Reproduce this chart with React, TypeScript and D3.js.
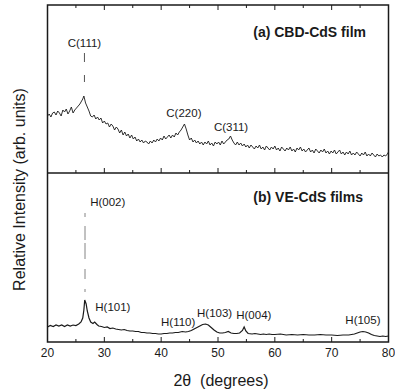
import * as d3 from "d3"

// 2θ (deg) and intensity (arb.)
const cbdScan: [number, number][] = [
  [20.0, 57], [20.3, 59], [20.6, 56], [20.9, 60], [21.2, 61], [21.5, 58], [21.8, 62], [22.1, 60],
  [22.4, 57], [22.7, 63], [23.0, 61], [23.3, 64], [23.6, 59], [23.9, 62], [24.2, 66], [24.5, 60],
  [24.8, 63], [25.1, 65], [25.4, 67], [25.7, 69], [26.0, 72], [26.2, 74], [26.4, 77], [26.7, 70],
  [27.0, 66], [27.3, 62], [27.6, 57], [27.9, 56], [28.2, 58], [28.5, 54], [28.8, 56], [29.1, 53],
  [29.4, 55], [29.7, 50], [30.0, 52], [30.3, 49], [30.6, 50], [30.9, 46], [31.2, 49], [31.5, 47],
  [31.8, 43], [32.1, 46], [32.4, 44], [32.7, 40], [33.0, 43], [33.3, 38], [33.6, 41], [33.9, 37],
  [34.2, 39], [34.5, 35], [34.8, 38], [35.1, 34], [35.4, 36], [35.7, 32], [36.0, 34], [36.3, 31],
  [36.6, 33], [36.9, 30], [37.2, 32], [37.5, 31], [37.8, 29], [38.1, 32], [38.4, 30], [38.7, 33],
  [39.0, 31], [39.3, 34], [39.6, 32], [39.9, 35], [40.2, 33], [40.5, 37], [40.8, 34], [41.1, 36],
  [41.4, 38], [41.7, 35], [42.0, 38], [42.3, 36], [42.6, 40], [42.9, 38], [43.2, 41], [43.5, 43],
  [43.8, 46], [44.1, 49], [44.4, 44], [44.7, 38], [45.0, 33], [45.3, 35], [45.6, 31], [45.9, 33],
  [46.2, 30], [46.5, 32], [46.8, 29], [47.1, 31], [47.4, 28], [47.7, 31], [48.0, 29], [48.3, 32],
  [48.6, 28], [48.9, 30], [49.2, 27], [49.5, 31], [49.8, 29], [50.1, 31], [50.4, 28], [50.7, 32],
  [51.0, 29], [51.3, 31], [51.6, 33], [51.9, 34], [52.2, 37], [52.5, 33], [52.8, 30], [53.1, 28],
  [53.4, 31], [53.7, 28], [54.0, 30], [54.3, 27], [54.6, 29], [54.9, 26], [55.2, 28], [55.5, 25],
  [55.8, 28], [56.1, 26], [56.4, 24], [56.7, 27], [57.0, 25], [57.3, 28], [57.6, 24], [57.9, 26],
  [58.2, 23], [58.5, 27], [58.8, 25], [59.1, 23], [59.4, 26], [59.7, 24], [60.0, 27], [60.3, 23],
  [60.6, 25], [60.9, 22], [61.2, 26], [61.5, 24], [61.8, 22], [62.1, 25], [62.4, 23], [62.7, 26],
  [63.0, 22], [63.3, 24], [63.6, 21], [63.9, 25], [64.2, 23], [64.5, 26], [64.8, 22], [65.1, 24],
  [65.4, 21], [65.7, 23], [66.0, 25], [66.3, 21], [66.6, 23], [66.9, 20], [67.2, 24], [67.5, 22],
  [67.8, 20], [68.1, 23], [68.4, 21], [68.7, 24], [69.0, 20], [69.3, 22], [69.6, 19], [69.9, 22],
  [70.2, 20], [70.5, 23], [70.8, 19], [71.1, 21], [71.4, 23], [71.7, 19], [72.0, 21], [72.3, 18],
  [72.6, 21], [72.9, 19], [73.2, 22], [73.5, 18], [73.8, 20], [74.1, 18], [74.4, 21], [74.7, 19],
  [75.0, 17], [75.3, 20], [75.6, 18], [75.9, 21], [76.2, 17], [76.5, 19], [76.8, 17], [77.1, 20],
  [77.4, 18], [77.7, 16], [78.0, 19], [78.3, 17], [78.6, 18], [78.9, 16], [79.2, 18], [79.5, 17],
  [79.8, 19], [80.0, 21],
]

const veScan: [number, number][] = [
  [20.0, 15], [20.5, 16.5], [21.0, 15.5], [21.5, 17], [22.0, 16], [22.5, 17], [23.0, 15.5], [23.5, 17],
  [24.0, 16], [24.5, 17], [25.0, 16.5], [25.5, 18], [25.9, 20], [26.2, 24], [26.4, 32], [26.55, 42],
  [26.8, 38], [27.0, 31], [27.3, 24], [27.6, 20], [28.0, 18.5], [28.3, 20], [28.7, 17.5], [29.0, 16],
  [29.5, 15.5], [30.0, 14.5], [30.5, 15], [31.0, 13.5], [31.5, 14], [32.0, 13], [32.5, 12.5], [33.0, 12],
  [33.5, 12.5], [34.0, 11.5], [34.5, 11], [35.0, 11], [35.5, 10.5], [36.0, 10.5], [36.5, 9.5], [37.0, 9.5],
  [37.5, 9], [38.0, 9], [38.5, 8.5], [39.0, 8.5], [39.5, 8], [40.0, 8], [40.5, 8.5], [41.0, 8.5],
  [41.5, 9], [42.0, 9], [42.5, 9.5], [43.0, 9.5], [43.7, 10.5], [44.3, 10], [44.8, 10.5], [45.3, 11.5],
  [45.8, 13], [46.3, 14.5], [46.8, 16], [47.3, 17.5], [47.8, 18], [48.3, 17], [48.8, 14.5], [49.3, 12],
  [49.8, 10], [50.3, 9], [50.8, 9], [51.3, 9.5], [51.8, 10.5], [52.3, 9], [52.8, 8.5], [53.3, 8.5],
  [53.8, 9], [54.3, 11.5], [54.6, 15], [54.9, 11], [55.3, 8.5], [56.0, 8], [56.5, 8.5], [57.0, 8],
  [57.5, 7.5], [58.0, 8], [58.5, 7.5], [59.0, 8], [59.5, 7.5], [60.0, 7.5], [61.0, 8], [62.0, 7],
  [63.0, 7.5], [64.0, 7], [65.0, 7.5], [66.0, 7], [67.0, 7], [68.0, 7.5], [69.0, 7], [70.0, 7],
  [71.0, 6.5], [72.0, 7], [73.0, 7], [73.5, 7.5], [74.0, 8], [74.5, 9], [75.0, 10], [75.5, 10.5],
  [76.0, 10], [76.5, 9], [77.0, 7.5], [77.5, 6.5], [78.0, 6], [78.5, 5.5], [79.0, 6], [79.5, 5.5],
  [80.0, 6],
]

// sharp reflections that come out only faintly in the scan: [2θ, base, top]
const cbdSpikes: [number, number, number][] = [[26.5, 77, 120]]
const veSpikes: [number, number, number][] = [[26.6, 42, 129]]

const cbdLabels: [string, number, number][] = [
  ["C(111)", 26.5, 130], ["C(220)", 44.0, 60], ["C(311)", 52.3, 46],
]
const veLabels: [string, number, number][] = [
  ["H(002)", 30.6, 140], ["H(101)", 31.5, 35], ["H(110)", 43.0, 20],
  ["H(103)", 49.4, 29], ["H(004)", 56.3, 27], ["H(105)", 75.5, 22],
]

const xTicks = [20, 30, 40, 50, 60, 70, 80]
const xMinor = [25, 35, 45, 55, 65, 75]

export default function App() {
  const W = 395, H = 391
  const left = 47.5, right = 388.5
  const top = 5, mid = 173, bottom = 342

  const x = d3.scaleLinear().domain([20, 80]).range([left, right])
  const yA = d3.scaleLinear().domain([0, 168]).range([mid, top])
  const yB = d3.scaleLinear().domain([0, 169]).range([bottom, mid])

  const lineA = d3.line<[number, number]>().x((d) => x(d[0])).y((d) => yA(d[1]))
  const lineB = d3.line<[number, number]>().x((d) => x(d[0])).y((d) => yB(d[1]))

  const font = "'Liberation Sans', Arial, Helvetica, sans-serif"
  const ink = "#1a1a1a"

  const ticks = (y0: number, dir: number, key: string) => (
    <g key={key} stroke={ink} strokeWidth={1}>
      {xTicks.map((t) => (
        <line key={t} x1={x(t)} x2={x(t)} y1={y0} y2={y0 + dir * 5} />
      ))}
      {xMinor.map((t) => (
        <line key={t} x1={x(t)} x2={x(t)} y1={y0} y2={y0 + dir * 3} />
      ))}
    </g>
  )

  return (
    <svg width={W} height={H} style={{ position: "absolute", left: 0, top: 0, background: "#fff" }}>
      {/* frame */}
      <rect x={left} y={top} width={right - left} height={bottom - top} fill="none" stroke={ink} strokeWidth={1.5} />
      <line x1={left} x2={right} y1={mid} y2={mid} stroke={ink} strokeWidth={1.5} />
      {ticks(top, 1, "t")}
      {ticks(mid, -1, "m")}
      {ticks(bottom, -1, "b")}

      {/* spectra */}
      <path d={lineA(cbdScan) ?? ""} fill="none" stroke={ink} strokeWidth={0.9} />
      <path d={lineB(veScan) ?? ""} fill="none" stroke={ink} strokeWidth={1.2} />

      {cbdSpikes.map(([t, b, tp]) => (
        <line key={t} x1={x(t)} x2={x(t)} y1={yA(tp)} y2={yA(b)} stroke="#555" strokeWidth={1}
          strokeDasharray="9,13,7,20" />
      ))}
      {veSpikes.map(([t, b, tp]) => (
        <line key={t} x1={x(t)} x2={x(t)} y1={yB(tp)} y2={yB(b)} stroke="#777" strokeWidth={0.9}
          strokeDasharray="4,9,14,3,16,10,10,10,3,12" />
      ))}

      {/* peak labels */}
      <g fontFamily={font} fontSize={11.5} fill={ink} textAnchor="middle">
        {cbdLabels.map(([s, t, v]) => (
          <text key={s} x={x(t)} y={yA(v)} dy="0.35em">{s}</text>
        ))}
        {veLabels.map(([s, t, v]) => (
          <text key={s} x={x(t)} y={yB(v)} dy="0.35em">{s}</text>
        ))}
      </g>

      <g fontFamily={font} fontSize={14} fontWeight="bold" fill={ink} textAnchor="end">
        <text x={366} y={37}>(a) CBD-CdS film</text>
        <text x={363} y={202}>(b) VE-CdS films</text>
      </g>

      {/* axis labels */}
      <g fontFamily={font} fontSize={12} fill={ink} textAnchor="middle">
        {xTicks.map((t) => (
          <text key={t} x={x(t)} y={357}>{t}</text>
        ))}
      </g>
      <text x={221} y={386} fontFamily={font} fontSize={16} fill={ink} textAnchor="middle" xmlSpace="preserve">
        2θ  (degrees)
      </text>
      <text transform={`translate(25,${(72 + 307) / 2}) rotate(-90)`} fontFamily={font} fontSize={16} fill={ink}
        textAnchor="middle">
        Relative Intensity (arb. units)
      </text>
    </svg>
  )
}
